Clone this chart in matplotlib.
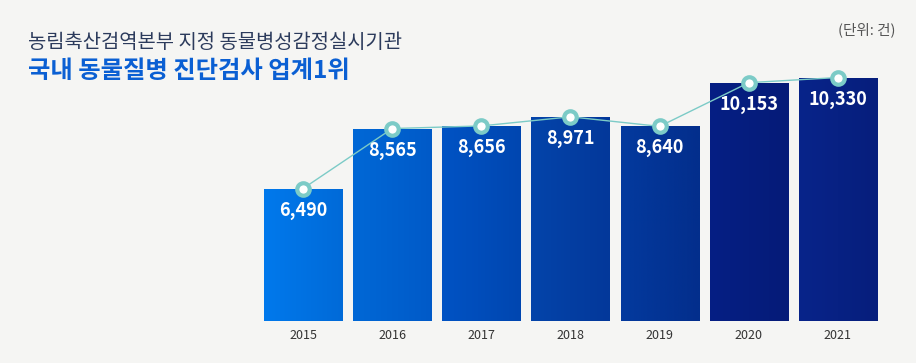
import numpy as np
import matplotlib
matplotlib.use("Agg")
import matplotlib.pyplot as plt
from matplotlib.colors import LinearSegmentedColormap

plt.rcParams['font.family'] = ['Noto Sans CJK KR', 'DejaVu Sans']

years = ['2015', '2016', '2017', '2018', '2019', '2020', '2021']
counts = [6490, 8565, 8656, 8971, 8640, 10153, 10330]
labels = ['6,490', '8,565', '8,656', '8,971', '8,640', '10,153', '10,330']

subtitle = '농림축산검역본부 지정 동물병성감정실시기관'
title = '국내 동물질병 진단검사 업계1위'
unit = '(단위: 건)'

# gradient colours per bar (left, right)
bar_colors = [('#0079ec', '#006ad8'), ('#0068d6', '#005ac8'), ('#0053c4', '#0046b0'),
              ('#0444aa', '#03389a'), ('#033a9e', '#032e8c'), ('#061f84', '#051b78'),
              ('#08248a', '#061e7c')]
bg = '#f5f5f3'
teal = '#7ccbc7'

fig = plt.figure(figsize=(9.16, 3.63), dpi=100, facecolor=bg)
ax = fig.add_axes([0.2822, 0.1157, 0.6812, 0.7741])
ax.set_facecolor(bg)

ylo, yhi = 1908, 11628
ax.set_xlim(-0.5, len(years) - 0.5)
ax.set_ylim(ylo, yhi)

x = np.arange(len(years))
width = 0.876
bars = ax.bar(x, counts, width=width, color='none', edgecolor='none')

grad = np.linspace(0, 1, 256).reshape(1, -1)
for b, (c1, c2) in zip(bars, bar_colors):
    cmap = LinearSegmentedColormap.from_list('g', [c1, c2])
    x0 = b.get_x()
    im = ax.imshow(grad, cmap=cmap, aspect='auto', extent=(x0, x0 + width, ylo, b.get_height()),
                   origin='lower', zorder=1)
    im.set_clip_path(b)

ax.plot(x, counts, color=teal, lw=1.0, zorder=3)
ax.plot(x, counts, 'o', ms=9, mfc='white', mec=teal, mew=3, zorder=4)

for xi, v, lab in zip(x, counts, labels):
    ax.annotate(lab, (xi, v), xytext=(0, -15.5), textcoords='offset points',
                ha='center', va='center', color='white', fontsize=13, fontweight='bold', zorder=5)

ax.set_xticks(x)
ax.set_xticklabels(years, fontsize=9, color='#333333')
ax.tick_params(axis='x', length=0, pad=6)
ax.set_yticks([])
for s in ax.spines.values():
    s.set_visible(False)

fig.text(28 / 916, 1 - 42 / 363, subtitle, fontsize=14.3, color='#2c3b5c', va='center', ha='left')
fig.text(28 / 916, 1 - 71 / 363, title, fontsize=17.5, fontweight='bold', color='#0a5fd3',
         va='center', ha='left')
fig.text(895 / 916, 1 - 30 / 363, unit, fontsize=10.5, color='#555555', va='center', ha='right')

fig.savefig('out.png', dpi=100, facecolor=bg)
